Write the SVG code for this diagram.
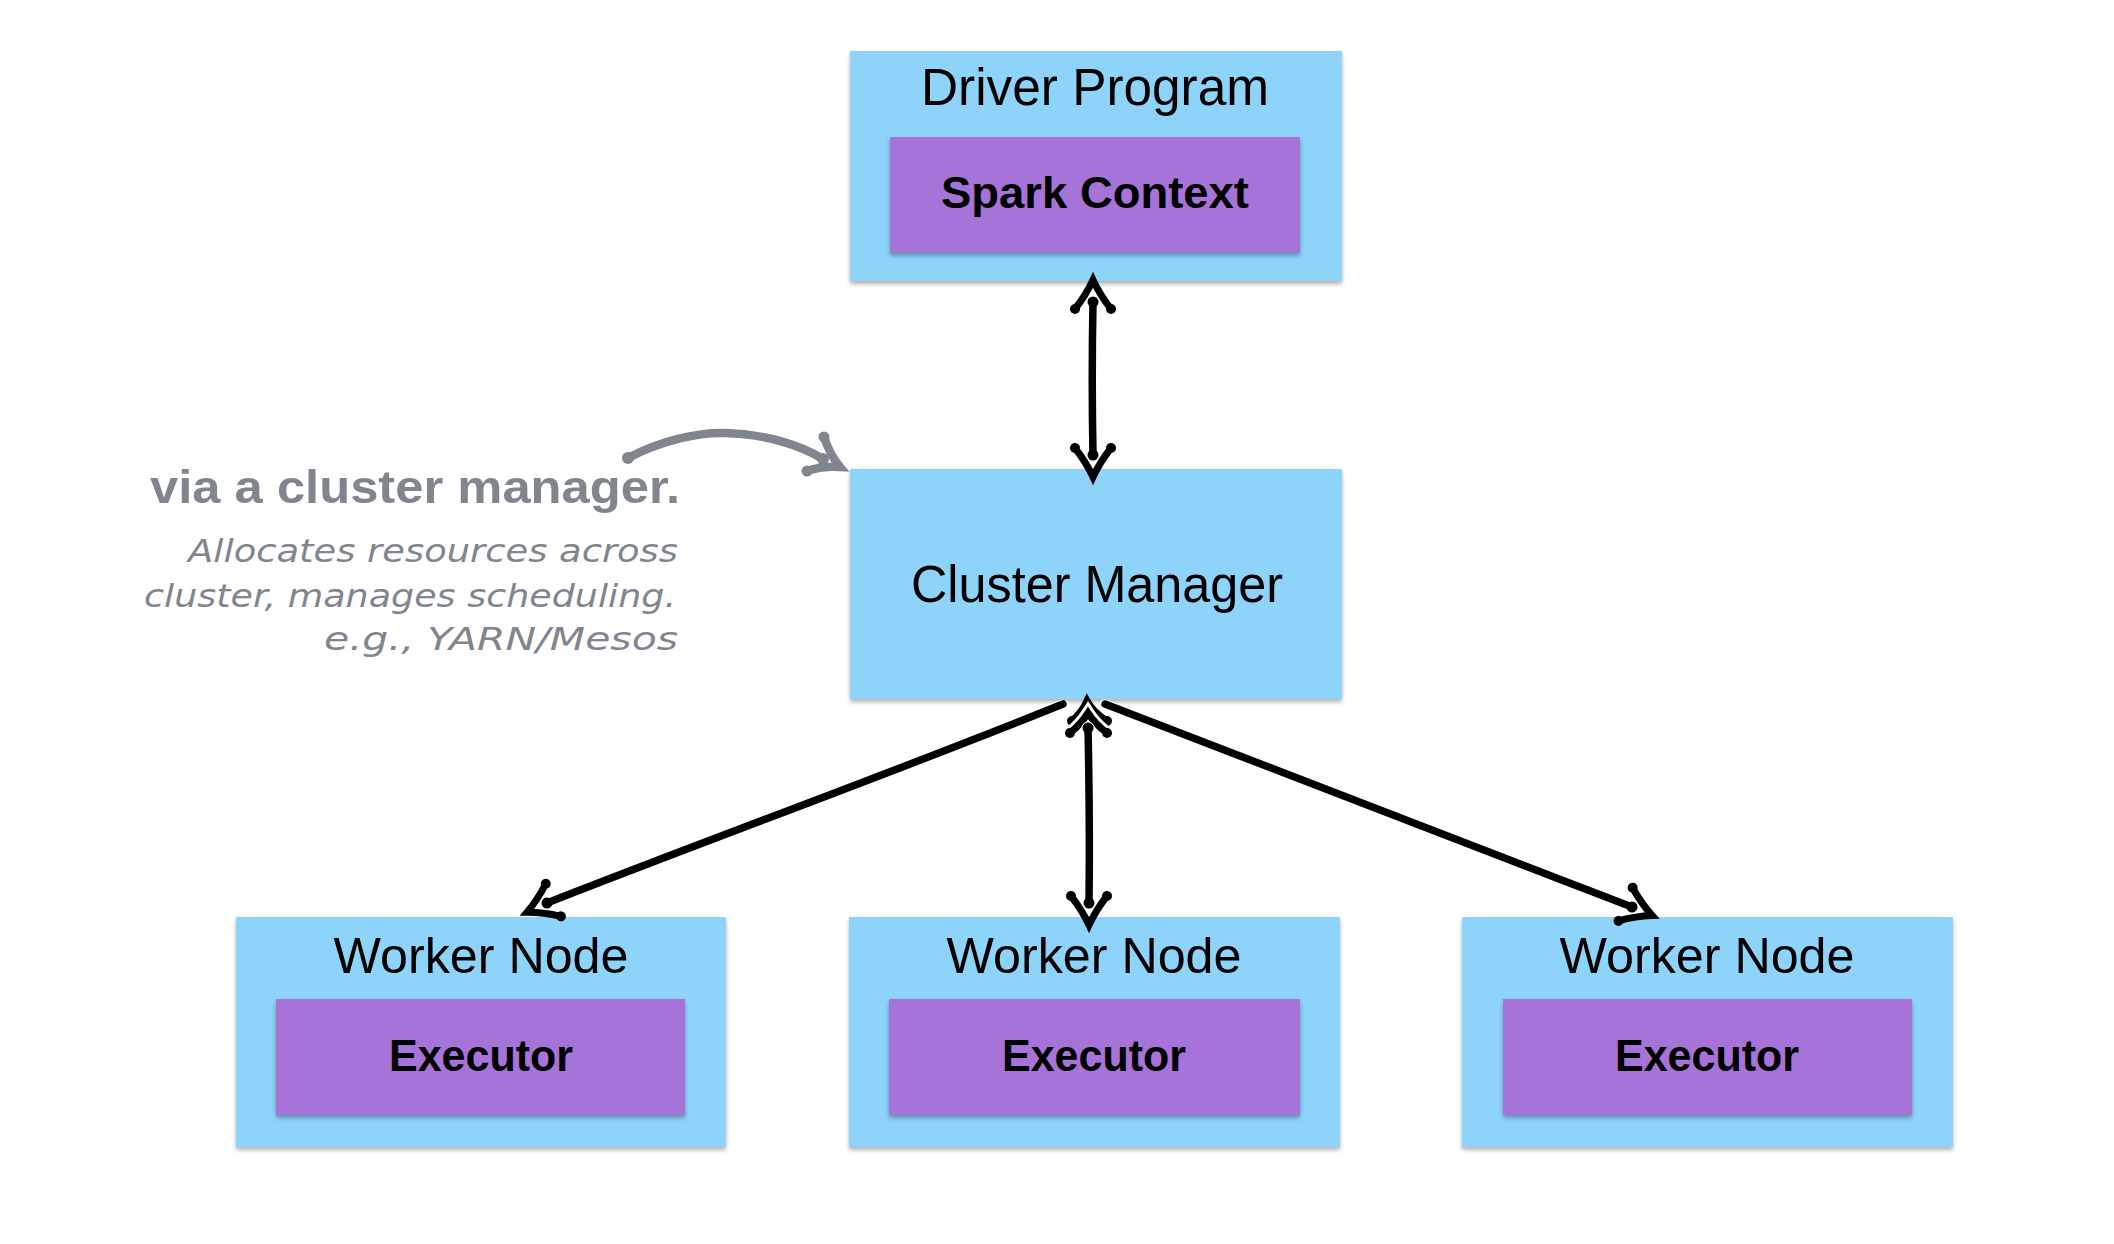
<svg xmlns="http://www.w3.org/2000/svg" xmlns:xlink="http://www.w3.org/1999/xlink" width="2114" height="1244" viewBox="0 0 2114 1244">
<style>
.outer{fill:#8DD3FA;filter:url(#sh);}
.inner{fill:#A673D9;filter:url(#sh);}
.t{font-family:"Liberation Sans",Arial,sans-serif;fill:#000;text-anchor:middle;}
.h{font-size:51px;}
.b{font-size:44px;font-weight:bold;}
.note{font-family:"Liberation Sans",Arial,sans-serif;fill:#80858E;text-anchor:end;}
.nb{font-size:46px;font-weight:bold;}
.ni{font-family:"DejaVu Sans","Liberation Sans",sans-serif;font-size:32px;font-style:italic;}
.ln{fill:none;stroke:#000;stroke-width:7.5;stroke-linecap:round;stroke-linejoin:round;}
.case{fill:none;stroke:#fff;stroke-width:13;stroke-linecap:round;}
.chev{fill:none;stroke:#000;stroke-width:7;stroke-linecap:round;stroke-linejoin:miter;stroke-miterlimit:10;}
.dot{fill:#000;}
.gray{fill:none;stroke:#80858E;stroke-width:8.5;stroke-linecap:round;stroke-linejoin:miter;}
.gdot{fill:#80858E;}
</style>
<defs>
<filter id="sh" x="-5%" y="-5%" width="110%" height="115%">
<feDropShadow dx="0" dy="3" stdDeviation="2" flood-color="#000" flood-opacity="0.3"/>
</filter>
<g id="chev">
<path class="chev" d="M-7,-18 Q7,-7 22,0 Q7,7 -7,18"/>
<circle class="dot" cx="-7" cy="-18" r="5"/>
<circle class="dot" cx="-7" cy="18" r="5"/>
</g>
</defs>

<g id="driver">
<rect class="outer" x="850" y="51" width="492" height="230"/>
<rect class="inner" x="890" y="137" width="410" height="116"/>
<text class="t h" x="1095" y="105" textLength="348" lengthAdjust="spacingAndGlyphs">Driver Program</text>
<text class="t b" x="1095" y="208" textLength="308" lengthAdjust="spacingAndGlyphs">Spark Context</text>
</g>

<g id="cluster">
<rect class="outer" x="850" y="469" width="492" height="230"/>
<text class="t h" x="1097" y="602" style="font-size:52px" textLength="372" lengthAdjust="spacingAndGlyphs">Cluster Manager</text>
</g>

<g id="worker1">
<rect class="outer" x="236" y="917" width="490" height="230"/>
<rect class="inner" x="276" y="999" width="409" height="116"/>
<text class="t h" x="481" y="973" style="font-size:50px" textLength="295" lengthAdjust="spacingAndGlyphs">Worker Node</text>
<text class="t b" x="481" y="1071" textLength="184" lengthAdjust="spacingAndGlyphs">Executor</text>
</g>

<g id="worker2">
<rect class="outer" x="849" y="917" width="491" height="230"/>
<rect class="inner" x="889" y="999" width="411" height="116"/>
<text class="t h" x="1094" y="973" style="font-size:50px" textLength="295" lengthAdjust="spacingAndGlyphs">Worker Node</text>
<text class="t b" x="1094" y="1071" textLength="184" lengthAdjust="spacingAndGlyphs">Executor</text>
</g>

<g id="worker3">
<rect class="outer" x="1462" y="917" width="491" height="230"/>
<rect class="inner" x="1503" y="999" width="409" height="116"/>
<text class="t h" x="1707" y="973" style="font-size:50px" textLength="295" lengthAdjust="spacingAndGlyphs">Worker Node</text>
<text class="t b" x="1707" y="1071" textLength="184" lengthAdjust="spacingAndGlyphs">Executor</text>
</g>

<g id="note">
<text class="note nb" x="680" y="503" textLength="530" lengthAdjust="spacingAndGlyphs">via a cluster manager.</text>
<text class="note ni" x="678" y="562" textLength="490" lengthAdjust="spacingAndGlyphs">Allocates resources across</text>
<text class="note ni" x="676" y="607" textLength="532" lengthAdjust="spacingAndGlyphs">cluster, manages scheduling.</text>
<text class="note ni" x="678" y="650" textLength="354" lengthAdjust="spacingAndGlyphs">e.g., YARN/Mesos</text>
</g>

<g id="connectors">
<!-- driver <-> cluster -->
<use xlink:href="#chev" href="#chev" transform="translate(1093,302) rotate(-90)"/>
<use xlink:href="#chev" href="#chev" transform="translate(1093,455) rotate(90)"/>
<path class="case" d="M1093,302 L1093,455"/>
<path class="ln" d="M1093,302 Q1091.5,380 1093,455"/>
<circle class="dot" cx="1093" cy="302" r="5.5"/>
<circle class="dot" cx="1093" cy="455" r="5.5"/>

<!-- cluster <-> worker1 -->
<use xlink:href="#chev" href="#chev" transform="translate(547,903) rotate(155)"/>
<path class="case" d="M1063,706 L547,903"/>
<path class="ln" d="M1063,704 C895,772 715,837 547,903"/>
<circle class="dot" cx="547" cy="903" r="5.5"/>

<!-- cluster <-> worker3 -->
<use xlink:href="#chev" href="#chev" transform="translate(1632,907) rotate(23)"/>
<path class="case" d="M1105,706 L1632,907"/>
<path class="ln" d="M1105,704 C1280,770 1455,838 1632,907"/>
<circle class="dot" cx="1632" cy="907" r="5.5"/>

<!-- cluster <-> worker2 -->
<path class="chev" d="M1072,721 Q1082,712 1087,701 Q1093,712 1107,721"/>
<circle class="dot" cx="1072" cy="721" r="5"/>
<circle class="dot" cx="1107" cy="721" r="5"/>
<path class="case" d="M1070,733 Q1081,724 1088,713 Q1095,724 1107,733"/>
<path class="chev" d="M1070,733 Q1081,724 1088,713 Q1095,724 1107,733"/>
<circle class="dot" cx="1070" cy="733" r="5"/>
<circle class="dot" cx="1107" cy="733" r="5"/>
<use xlink:href="#chev" href="#chev" transform="translate(1089,903) rotate(90)"/>
<path class="case" d="M1088,728 L1089,903"/>
<path class="ln" d="M1088,728 Q1090,820 1089,903"/>
<circle class="dot" cx="1088" cy="728" r="5.5"/>
<circle class="dot" cx="1089" cy="903" r="5.5"/>

<!-- annotation arrow -->
<path class="gray" d="M628,458 C662,440 700,432 725,433 C765,434 800,445 823,459"/>
<circle class="gdot" cx="628" cy="458" r="6"/>
<path class="gray" d="M824,437 Q830,455 840,467 Q822,466 807,471"/>
<circle class="gdot" cx="824" cy="437" r="5.5"/>
<circle class="gdot" cx="807" cy="471" r="5.5"/>
<circle class="gdot" cx="823" cy="459" r="6"/>
</g>
</svg>
